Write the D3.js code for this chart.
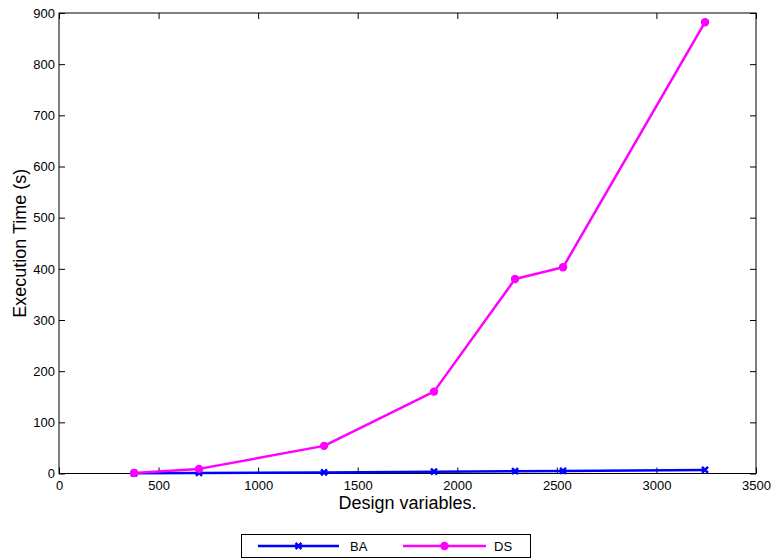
<!DOCTYPE html>
<html>
<head>
  <meta charset="UTF-8">
  <script src="https://d3js.org/d3.v7.min.js"></script>
  <style>
    body { margin: 0; background: #fff; font-family: "Liberation Sans", Arial, sans-serif; }
    svg text { fill: #000; }
  </style>
</head>
<body>
  <svg id="chart" width="774" height="558"></svg>
  <script>
    const designVars = [377, 703, 1331, 1883, 2290, 2531, 3244];
    const baTime = [0.5, 1, 2, 3.5, 4.5, 5, 7];
    const dsTime = [1, 9, 54, 160, 380, 403, 882];
    const xTicks = [0, 500, 1000, 1500, 2000, 2500, 3000, 3500];
    const yTicks = [0, 100, 200, 300, 400, 500, 600, 700, 800, 900];

    const svg = d3.select('#chart');
    const plotL = 59, plotR = 756, plotT = 13, plotB = 473.5;

    const x = d3.scaleLinear().domain([0, 3500]).range([plotL, plotR]);
    const y = d3.scaleLinear().domain([0, 900]).range([plotB, plotT]);

    // frame + inward ticks on all sides
    svg.append('rect')
      .attr('x', plotL).attr('y', plotT)
      .attr('width', plotR - plotL).attr('height', plotB - plotT)
      .attr('fill', 'none').attr('stroke', '#000').attr('stroke-width', 1);

    const tl = 6;
    const fmt = d3.format('d');
    svg.append('g').attr('transform', `translate(0,${plotB})`)
      .call(d3.axisBottom(x).tickValues(xTicks).tickFormat(fmt).tickSize(-tl).tickPadding(7))
      .call(g => g.select('.domain').remove());
    svg.append('g').attr('transform', `translate(0,${plotT})`)
      .call(d3.axisTop(x).tickValues(xTicks).tickFormat('').tickSize(-tl))
      .call(g => g.select('.domain').remove());
    svg.append('g').attr('transform', `translate(${plotL},0)`)
      .call(d3.axisLeft(y).tickValues(yTicks).tickFormat(fmt).tickSize(-tl).tickPadding(4))
      .call(g => g.select('.domain').remove());
    svg.append('g').attr('transform', `translate(${plotR},0)`)
      .call(d3.axisRight(y).tickValues(yTicks).tickFormat('').tickSize(-tl))
      .call(g => g.select('.domain').remove());
    svg.selectAll('.tick text')
      .attr('font-family', '"Liberation Sans", Arial, sans-serif')
      .attr('font-size', 13).attr('fill', '#000');
    svg.selectAll('.tick line').attr('stroke', '#000');

    // axis titles
    svg.append('text').attr('x', (plotL + plotR) / 2).attr('y', 509)
      .attr('text-anchor', 'middle').attr('font-size', 18).text('Design variables.');
    svg.append('text')
      .attr('transform', `translate(26,${(plotT + plotB) / 2}) rotate(-90)`)
      .attr('text-anchor', 'middle').attr('font-size', 18).text('Execution Time (s)');

    const line = d3.line().x(d => x(d[0])).y(d => y(d[1]));
    const series = [
      { name: 'BA', color: '#0000ff', vals: baTime, marker: 'x' },
      { name: 'DS', color: '#ff00ff', vals: dsTime, marker: 'o' }
    ];

    function drawMarker(g, m, cx, cy, color) {
      if (m === 'o') {
        g.append('circle').attr('cx', cx).attr('cy', cy).attr('r', 4.2).attr('fill', color);
      } else {
        const s = 3;
        g.append('path')
          .attr('d', `M${cx - s},${cy - s}L${cx + s},${cy + s}M${cx - s},${cy + s}L${cx + s},${cy - s}`)
          .attr('stroke', color).attr('stroke-width', 2.5).attr('fill', 'none');
      }
    }

    series.forEach(s => {
      const pts = designVars.map((v, i) => [v, s.vals[i]]);
      svg.append('path').datum(pts).attr('d', line)
        .attr('fill', 'none').attr('stroke', s.color).attr('stroke-width', 2.5)
        .attr('stroke-linejoin', 'round');
      const g = svg.append('g');
      pts.forEach(p => drawMarker(g, s.marker, x(p[0]), y(p[1]), s.color));
    });

    // legend
    const lg = svg.append('g');
    lg.append('rect').attr('x', 241.5).attr('y', 534.5).attr('width', 289).attr('height', 23)
      .attr('fill', '#fff').attr('stroke', '#000').attr('stroke-width', 1);
    const legendPos = [{ x0: 258, x1: 339, tx: 350 }, { x0: 403, x1: 486, tx: 494 }];
    series.forEach((s, i) => {
      const p = legendPos[i];
      const ly = 546;
      lg.append('line').attr('x1', p.x0).attr('x2', p.x1).attr('y1', ly).attr('y2', ly)
        .attr('stroke', s.color).attr('stroke-width', 2.5);
      drawMarker(lg, s.marker, (p.x0 + p.x1) / 2, ly, s.color);
      lg.append('text').attr('x', p.tx).attr('y', ly + 4.5).attr('font-size', 13).text(s.name);
    });
  </script>
</body>
</html>
